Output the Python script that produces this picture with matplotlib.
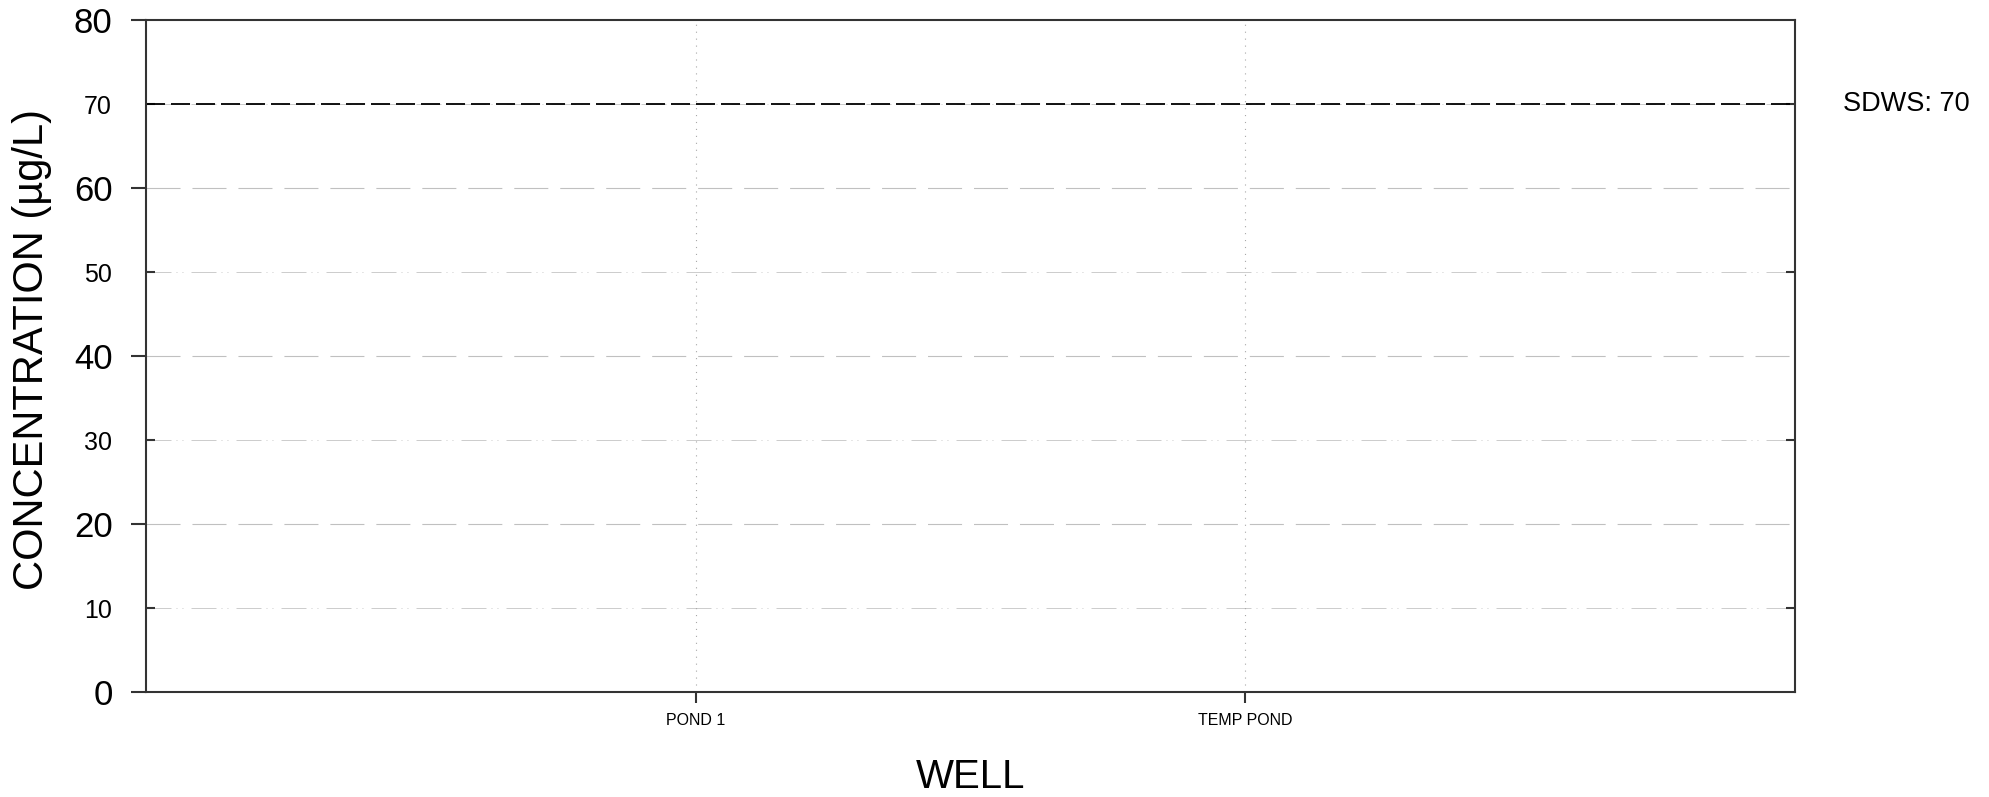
import numpy as np
import matplotlib
matplotlib.use("Agg")
import matplotlib.pyplot as plt

plt.rcParams['font.family'] = ['Liberation Sans', 'DejaVu Sans']
plt.rcParams['lines.scale_dashes'] = False

# data
wells = ["POND 1", "TEMP POND"]
major_ticks = [0, 20, 40, 60, 80]
minor_ticks = [10, 30, 50, 70]
sdws_value = 70
sdws_label = "SDWS: 70"

spine_color = "#333333"

fig = plt.figure(figsize=(19.9, 7.97), dpi=100)
ax = fig.add_axes([146/1990, 1 - 692/797, (1795-146)/1990, (692-20)/797])

xpos = np.arange(1, len(wells) + 1)
ax.set_xlim(0, len(wells) + 1)
ax.set_ylim(major_ticks[0], major_ticks[-1])

ax.set_xticks(xpos)
ax.set_xticklabels(wells)
ax.set_yticks(major_ticks)
ax.set_yticks(minor_ticks, minor=True)
ax.set_yticklabels([str(t) for t in minor_ticks], minor=True)

# grid lines
for y in major_ticks[1:-1]:
    ax.axhline(y, color="#c0c0c0", lw=0.8, dashes=(24.5, 8.6), zorder=1)
for y in minor_ticks:
    ax.axhline(y, color="#cccccc", lw=0.7,
               dashes=(18, 3.6, 0.7, 3.6, 0.7, 5.8), zorder=1)
for x in xpos:
    ax.axvline(x, color="#a8a8a8", lw=0.8, dashes=(0.8, 4.2), zorder=1)

# standard line
ax.axhline(sdws_value, color="black", lw=1.3, dashes=(13.7, 4.3), zorder=2)
ax.text(1.029, sdws_value, sdws_label, transform=ax.get_yaxis_transform(),
        fontsize=19.5, va="center", ha="left")

for s in ax.spines.values():
    s.set_color(spine_color)
    s.set_linewidth(1.5)

ax.tick_params(axis="x", direction="out", length=8, width=1.5,
               color=spine_color, labelsize=11.5, pad=7)
ax.tick_params(axis="y", which="major", direction="out", length=11,
               width=1.5, color=spine_color, labelsize=25, pad=13)
ax.tick_params(axis="y", which="minor", direction="in", length=6.5,
               width=1.5, color=spine_color, labelsize=18, pad=24.5,
               right=True)

ax.set_xlabel("WELL", fontsize=29, labelpad=22)
ax.set_ylabel("CONCENTRATION (µg/L)", fontsize=30)
ax.yaxis.set_label_coords(-0.057, 0.51)

fig.savefig("out.png", dpi=100)
